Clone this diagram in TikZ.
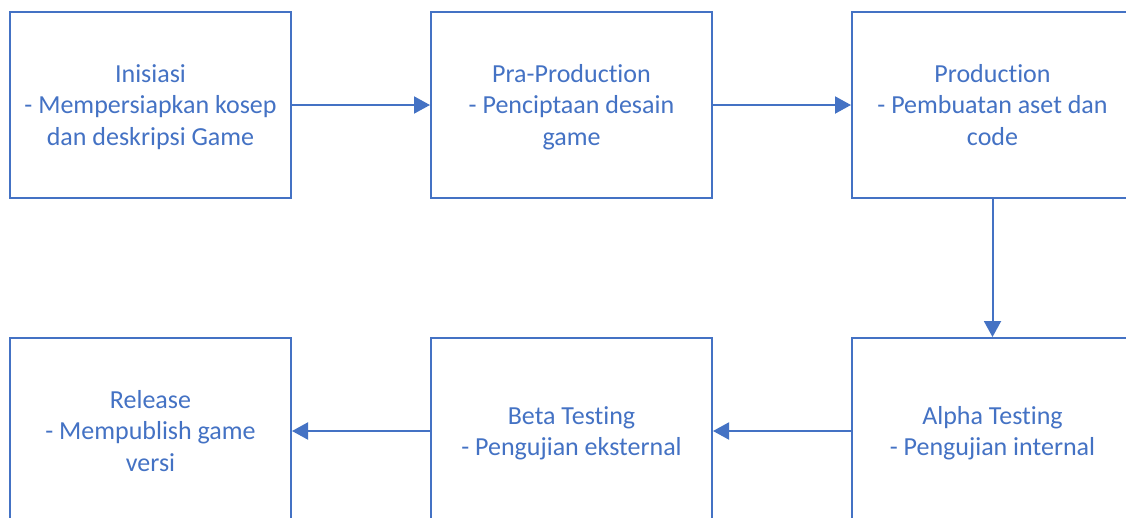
\documentclass[tikz,border=0pt]{standalone}
\usepackage{fontspec}
\setmainfont[RawFeature={-liga;-clig;-dlig;-calt}]{Carlito}
\usetikzlibrary{arrows.meta}
\definecolor{officeblue}{HTML}{4472C4}
\newcommand{\mytopstrut}{\rule{0pt}{27pt}}
\begin{document}
\begin{tikzpicture}[x=1pt,y=-1pt,
  stagebox/.style={draw=officeblue, line width=2pt, rectangle, minimum width=281pt, minimum height=186pt,
    inner sep=0pt, align=center, text=officeblue, font=\fontsize{26}{31.5}\selectfont},
  flow/.style={draw=officeblue, line width=2pt, -{Triangle[length=16pt,width=17pt]}}]
\useasboundingbox (0,0) rectangle (1126,517);
\clip (0,0) rectangle (1126,517);
\fill[white] (0,0) rectangle (1126,517);
\node[stagebox] (ini) at (150.5,105) {\mytopstrut Inisiasi\\- Mempersiapkan kosep\\dan deskripsi Game\strut};
\node[stagebox] (pra) at (571.5,105) {\mytopstrut Pra-Production\\- Penciptaan desain\\game\strut};
\node[stagebox] (prod) at (992.5,105) {\mytopstrut Production\\- Pembuatan aset dan\\code\strut};
\node[stagebox] (alpha) at (992.5,431) {\mytopstrut Alpha Testing\\- Pengujian internal\strut};
\node[stagebox] (beta) at (571.5,431) {\mytopstrut Beta Testing\\- Pengujian eksternal\strut};
\node[stagebox] (rel) at (150.5,431) {\mytopstrut Release\\- Mempublish game\\versi\strut};
\draw[flow] (ini.east) -- (pra.west);
\draw[flow] (pra.east) -- (prod.west);
\draw[flow] (prod.south) -- (alpha.north);
\draw[flow] (alpha.west) -- (beta.east);
\draw[flow] (beta.west) -- (rel.east);
\end{tikzpicture}
\end{document}
